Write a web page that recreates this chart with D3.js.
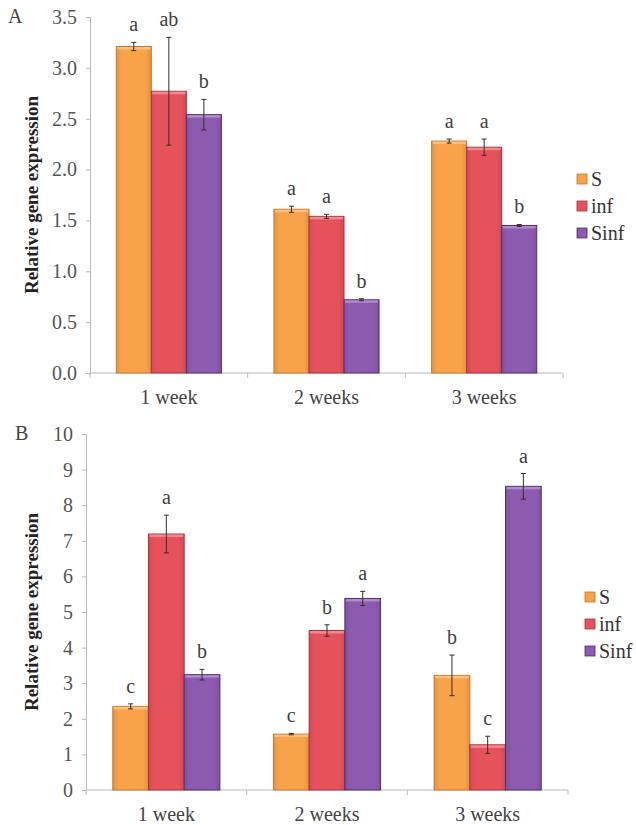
<!DOCTYPE html>
<html>
<head>
<meta charset="utf-8">
<script src="https://cdn.jsdelivr.net/npm/d3@7/dist/d3.min.js"></script>
<style>
  html, body { margin: 0; padding: 0; background: #fff; }
  svg { display: block; }
  svg text { font-family: 'Liberation Serif' !important; }
</style>
</head>
<body>
<svg id="chart" width="636" height="825"></svg>
<script>
// Sampling times and treatments
const weeks = ["1 week", "2 weeks", "3 weeks"];
const treatments = ["S", "inf", "Sinf"];

// Panel A: relative expression (mean, error, significance letter) per treatment
const aS      = [3.21, 1.61, 2.28];
const aInf    = [2.77, 1.54, 2.22];
const aSinf   = [2.54, 0.72, 1.45];
const aSErr   = [0.04, 0.03, 0.02];
const aInfErr = [0.53, 0.02, 0.08];
const aSinfErr= [0.15, 0.01, 0.01];
const aSLet   = ["a", "a", "a"];
const aInfLet = ["ab", "a", "a"];
const aSinfLet= ["b", "b", "b"];
const aTicks  = [0, 0.5, 1.0, 1.5, 2.0, 2.5, 3.0, 3.5];

// Panel B
const bS      = [2.35, 1.57, 3.22];
const bInf    = [7.19, 4.48, 1.27];
const bSinf   = [3.24, 5.38, 8.53];
const bSErr   = [0.07, 0.02, 0.57];
const bInfErr = [0.53, 0.16, 0.24];
const bSinfErr= [0.15, 0.20, 0.36];
const bSLet   = ["c", "c", "b"];
const bInfLet = ["a", "b", "c"];
const bSinfLet= ["b", "a", "a"];
const bTicks  = [0, 1, 2, 3, 4, 5, 6, 7, 8, 9, 10];

const FONT = "'Liberation Serif'";

const fills   = { S: "#F8A24A", inf: "#E5525C", Sinf: "#8C5AAE" };
const strokes = { S: "#C47A2E", inf: "#A83440", Sinf: "#4E2F72" };
const lights  = { S: "#FBC07E", inf: "#F08A90", Sinf: "#B08BCB" };

const svg = d3.select("#chart");

// Horizontal shading for the bar faces
const defs = svg.append("defs");
treatments.forEach(t => {
  const g = defs.append("linearGradient").attr("id", "grad-" + t)
    .attr("x1", "0%").attr("x2", "100%").attr("y1", "0%").attr("y2", "0%");
  g.append("stop").attr("offset", "0%").attr("stop-color", d3.color(fills[t]).darker(0.25));
  g.append("stop").attr("offset", "15%").attr("stop-color", fills[t]);
  g.append("stop").attr("offset", "85%").attr("stop-color", fills[t]);
  g.append("stop").attr("offset", "100%").attr("stop-color", d3.color(fills[t]).darker(0.3));
});

function panel(cfg) {
  const rows = weeks.map((w, i) => ({
    week: w,
    items: [
      { t: "S",    v: cfg.S[i],    e: cfg.SErr[i],    l: cfg.SLet[i] },
      { t: "inf",  v: cfg.Inf[i],  e: cfg.InfErr[i],  l: cfg.InfLet[i] },
      { t: "Sinf", v: cfg.Sinf[i], e: cfg.SinfErr[i], l: cfg.SinfLet[i] }
    ]
  }));

  const x0 = d3.scaleBand().domain(weeks).range([cfg.left, cfg.right]).padding(0);
  const x1 = d3.scaleBand().domain(treatments)
    .range([0, x0.bandwidth()]).paddingOuter(0.75).paddingInner(0);
  const y = d3.scaleLinear().domain([0, cfg.max]).range([cfg.bottom, cfg.top]);

  const g = svg.append("g");

  // y axis
  const yAxis = g.append("g").attr("transform", `translate(${cfg.left},0)`)
    .call(d3.axisLeft(y).tickValues(cfg.ticks).tickSize(4).tickPadding(9)
      .tickFormat(cfg.fmt));
  yAxis.attr("font-family", null);
  yAxis.select(".domain").attr("stroke", "#b8b8b8");
  yAxis.selectAll(".tick line").attr("stroke", "#b8b8b8");
  yAxis.selectAll("text").attr("font-size", 20).attr("fill", "#555");

  // x axis with separators at category boundaries
  const xg = g.append("g").attr("transform", `translate(0,${cfg.bottom})`);
  xg.append("line").attr("x1", cfg.left).attr("x2", cfg.right)
    .attr("stroke", "#b8b8b8");
  const bounds = weeks.map(w => x0(w)).concat([cfg.right]);
  xg.selectAll("line.sep").data(bounds).join("line").attr("class", "sep")
    .attr("x1", d => d).attr("x2", d => d).attr("y1", 0).attr("y2", 5)
    .attr("stroke", "#b8b8b8");
  xg.selectAll("text").data(weeks).join("text")
    .attr("x", d => x0(d) + x0.bandwidth() / 2).attr("y", 31)
    .attr("text-anchor", "middle").attr("font-size", 20).attr("fill", "#444")
    .text(d => d);

  // bars
  const grp = g.selectAll("g.grp").data(rows).join("g").attr("class", "grp")
    .attr("transform", d => `translate(${x0(d.week)},0)`);

  grp.selectAll("rect.bar").data(d => d.items).join("rect").attr("class", "bar")
    .attr("x", d => x1(d.t)).attr("width", x1.bandwidth())
    .attr("y", d => y(d.v)).attr("height", d => y(0) - y(d.v))
    .attr("fill", d => `url(#grad-${d.t})`)
    .attr("stroke", d => strokes[d.t]).attr("stroke-width", 1);

  // lighter top face
  grp.selectAll("rect.top").data(d => d.items).join("rect").attr("class", "top")
    .attr("x", d => x1(d.t) + 1).attr("width", x1.bandwidth() - 2)
    .attr("y", d => y(d.v) + 0.5).attr("height", 2.5)
    .attr("fill", d => lights[d.t]);

  // error bars
  const eb = grp.selectAll("g.err").data(d => d.items).join("g").attr("class", "err");
  eb.append("line")
    .attr("x1", d => x1(d.t) + x1.bandwidth() / 2).attr("x2", d => x1(d.t) + x1.bandwidth() / 2)
    .attr("y1", d => y(d.v + d.e)).attr("y2", d => y(d.v - d.e))
    .attr("stroke", "#3a2a2a").attr("stroke-width", 1);
  [1, -1].forEach(s => {
    eb.append("line")
      .attr("x1", d => x1(d.t) + x1.bandwidth() / 2 - 2.5).attr("x2", d => x1(d.t) + x1.bandwidth() / 2 + 2.5)
      .attr("y1", d => y(d.v + s * d.e)).attr("y2", d => y(d.v + s * d.e))
      .attr("stroke", "#3a2a2a").attr("stroke-width", 1);
  });

  // significance letters
  grp.selectAll("text.let").data(d => d.items).join("text").attr("class", "let")
    .attr("x", d => x1(d.t) + x1.bandwidth() / 2)
    .attr("y", d => y(d.v + d.e) - 11)
    .attr("text-anchor", "middle").attr("font-size", 20).attr("fill", "#3d3d3d")
    .text(d => d.l);

  // y title
  g.append("text")
    .attr("transform", `translate(${cfg.titleX},${(cfg.top + cfg.bottom) / 2}) rotate(-90)`)
    .attr("text-anchor", "middle").attr("font-size", 19).attr("font-weight", "bold")
    .attr("fill", "#222").text("Relative gene expression");

  // panel label
  g.append("text").attr("x", cfg.labelX).attr("y", cfg.top + 6)
    .attr("font-size", 20).attr("fill", "#444").text(cfg.label);

  // legend
  const lg = g.selectAll("g.leg").data(treatments).join("g").attr("class", "leg")
    .attr("transform", (d, i) => `translate(${cfg.legX},${cfg.legY + i * 27})`);
  lg.append("rect").attr("x", 0).attr("y", -6).attr("width", 10).attr("height", 10)
    .attr("fill", d => `url(#grad-${d})`).attr("stroke", d => strokes[d]).attr("stroke-width", 0.8);
  lg.append("text").attr("x", 14).attr("y", 6).attr("font-size", 20).attr("fill", "#333")
    .text(d => d);
}

panel({
  S: aS, Inf: aInf, Sinf: aSinf, SErr: aSErr, InfErr: aInfErr, SinfErr: aSinfErr,
  SLet: aSLet, InfLet: aInfLet, SinfLet: aSinfLet, ticks: aTicks, max: 3.5,
  fmt: d3.format(".1f"),
  left: 90, right: 563, top: 17, bottom: 373,
  titleX: 38, labelX: 8, label: "A", legX: 577, legY: 180
});

panel({
  S: bS, Inf: bInf, Sinf: bSinf, SErr: bSErr, InfErr: bInfErr, SinfErr: bSinfErr,
  SLet: bSLet, InfLet: bInfLet, SinfLet: bSinfLet, ticks: bTicks, max: 10,
  fmt: d3.format("d"),
  left: 86, right: 568, top: 434, bottom: 790,
  titleX: 38, labelX: 15, label: "B", legX: 585, legY: 598
});

// Apply the serif face to every label as well
svg.selectAll("text").attr("font-family", FONT).style("font-family", FONT);
</script>
</body>
</html>
